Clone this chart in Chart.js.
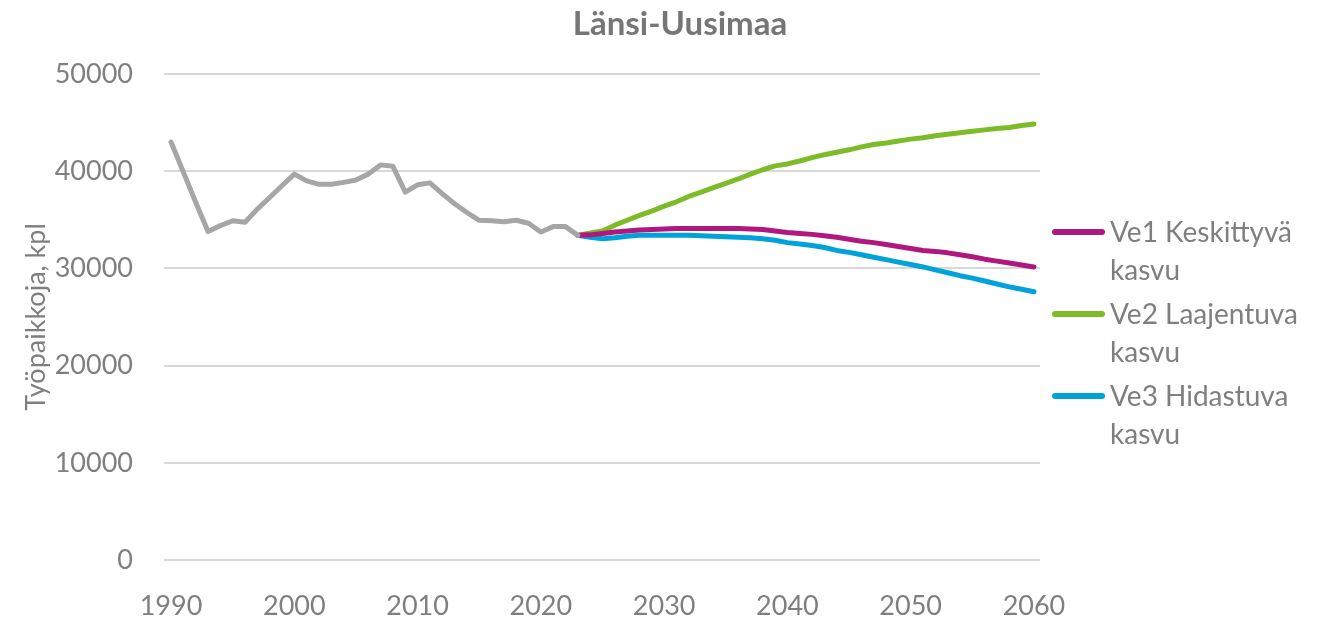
<!DOCTYPE html>
<html lang="fi">
<head>
<meta charset="utf-8">
<title>Länsi-Uusimaa</title>
<script src="https://cdn.jsdelivr.net/npm/chart.js@4"></script>
<style>
  body { margin: 0; background: #fff; font-family: Lato, "Open Sans", sans-serif; }
  #wrap { position: relative; width: 1326px; height: 617px; }
  #title { position: absolute; left: 0; width: 1360px; top: 2px; text-align: center; font-size: 33px; font-weight: bold; color: #767676; }
  #legend { position: absolute; left: 1052px; top: 212px; }
  .item { display: flex; align-items: flex-start; margin-bottom: 6px; }
  .swatch { width: 53px; height: 6px; border-radius: 3px; margin-top: 17px; margin-right: 5px; }
  .label { width: 230px; font-size: 28px; line-height: 38px; color: #7f7f7f; }
</style>
</head>
<body>
<div id="wrap">
  <canvas id="chart"></canvas>
  <div id="title">Länsi-Uusimaa</div>
  <div id="legend"></div>
</div>
<script>
const histYears = [1990, 1991, 1992, 1993, 1994, 1995, 1996, 1997, 1998, 1999,
  2000, 2001, 2002, 2003, 2004, 2005, 2006, 2007, 2008, 2009,
  2010, 2011, 2012, 2013, 2014, 2015, 2016, 2017, 2018, 2019,
  2020, 2021, 2022, 2023];
const histJobs = [43000, 39900, 36800, 33800, 34400, 34900, 34750, 36100, 37300, 38500,
  39700, 39000, 38650, 38650, 38850, 39100, 39700, 40650, 40500, 37850,
  38600, 38800, 37700, 36650, 35750, 34950, 34900, 34800, 34950, 34650,
  33750, 34300, 34300, 33400];

const projYears = [2023, 2024, 2025, 2026, 2027, 2028, 2029, 2030, 2031, 2032,
  2033, 2034, 2035, 2036, 2037, 2038, 2039, 2040, 2041, 2042,
  2043, 2044, 2045, 2046, 2047, 2048, 2049, 2050, 2051, 2052,
  2053, 2054, 2055, 2056, 2057, 2058, 2059, 2060];
const ve1 = [33400, 33450, 33600, 33750, 33850, 33950, 34000, 34050, 34100, 34100,
  34100, 34100, 34100, 34100, 34050, 34000, 33850, 33700, 33600, 33500,
  33350, 33200, 33000, 32800, 32650, 32450, 32250, 32050, 31850, 31750,
  31600, 31400, 31200, 30950, 30750, 30550, 30350, 30150];
const ve2 = [33400, 33650, 33850, 34450, 34950, 35450, 35900, 36400, 36850, 37400,
  37850, 38300, 38750, 39200, 39700, 40150, 40550, 40750, 41050, 41400,
  41700, 41950, 42200, 42500, 42750, 42900, 43100, 43300, 43450, 43650,
  43800, 43950, 44100, 44250, 44400, 44500, 44700, 44850];
const ve3 = [33400, 33200, 33050, 33150, 33300, 33400, 33400, 33400, 33400, 33400,
  33350, 33300, 33250, 33200, 33150, 33050, 32900, 32650, 32500, 32350,
  32150, 31850, 31650, 31400, 31150, 30900, 30650, 30400, 30150, 29850,
  29550, 29250, 29000, 28700, 28400, 28100, 27850, 27600];

const seriesNames = ["Ve1 Keskittyvä kasvu", "Ve2 Laajentuva kasvu", "Ve3 Hidastuva kasvu"];
const seriesColors = ["#b0187f", "#7dbb29", "#00a2da"];
const histColor = "#a6a6a6";
const xTicks = [1990, 2000, 2010, 2020, 2030, 2040, 2050, 2060];
const yTicks = [0, 10000, 20000, 30000, 40000, 50000];

const textGray = "#7f7f7f";
const toPoints = (xs, ys) => xs.map((x, i) => ({ x: x, y: ys[i] }));

function lineSet(label, color, points) {
  return {
    label: label,
    data: points,
    borderColor: color,
    backgroundColor: color,
    borderWidth: 5,
    pointRadius: 0,
    tension: 0,
    borderCapStyle: "round",
    borderJoinStyle: "round"
  };
}

const projections = [ve1, ve2, ve3];
const datasets = [lineSet("Historia", histColor, toPoints(histYears, histJobs))];
projections.forEach((vals, i) => {
  datasets.push(lineSet(seriesNames[i], seriesColors[i], toPoints(projYears, vals)));
});

// legend as plain html next to the plot
const legend = document.getElementById("legend");
seriesNames.forEach((name, i) => {
  const item = document.createElement("div");
  item.className = "item";
  item.innerHTML = '<div class="swatch" style="background:' + seriesColors[i] + '"></div>' +
    '<div class="label">' + name + "</div>";
  legend.appendChild(item);
});

new Chart(document.getElementById("chart"), {
  type: "line",
  data: { datasets: datasets },
  options: {
    responsive: true,
    maintainAspectRatio: false,
    animation: false,
    layout: { padding: { top: 74, right: 286, left: 0, bottom: 0 } },
    plugins: {
      legend: { display: false },
      tooltip: { enabled: false }
    },
    scales: {
      x: {
        type: "linear",
        min: 1989.43,
        max: 2060.49,
        afterFit: (scale) => { scale.height = 57; },
        afterBuildTicks: (scale) => { scale.ticks = xTicks.map(v => ({ value: v })); },
        grid: { display: false, drawTicks: false },
        border: { display: false },
        ticks: {
          padding: 30,
          maxRotation: 0,
          autoSkip: false,
          color: textGray,
          font: { family: "Lato", size: 27 },
          callback: (v) => String(v)
        }
      },
      y: {
        min: 0,
        max: 50000,
        afterFit: (scale) => { scale.width = 164; },
        afterBuildTicks: (scale) => { scale.ticks = yTicks.map(v => ({ value: v })); },
        grid: { color: "#d9d9d9", lineWidth: 2, drawTicks: false },
        border: { display: false },
        ticks: {
          padding: 31,
          color: textGray,
          font: { family: "Lato", size: 27 },
          callback: (v) => String(v)
        },
        title: {
          display: true,
          text: "Työpaikkoja, kpl",
          color: textGray,
          font: { family: "Lato", size: 27 },
          padding: { top: 20, bottom: 0 }
        }
      }
    }
  }
});
</script>
</body>
</html>
